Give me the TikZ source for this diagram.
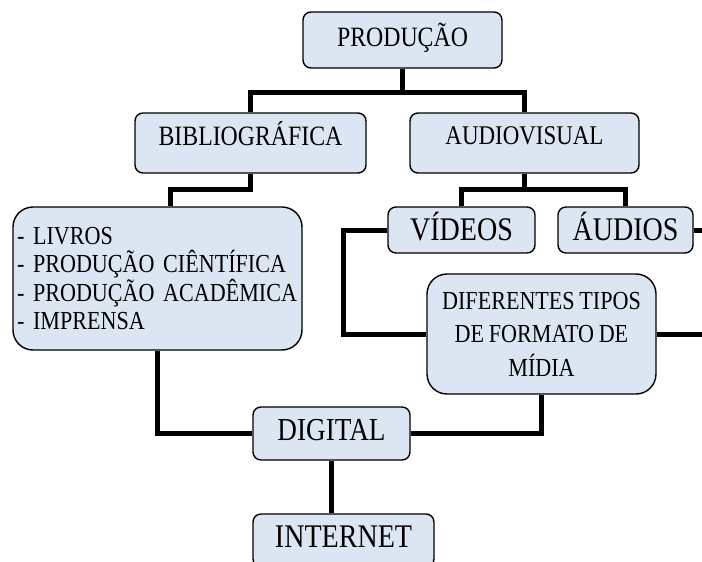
\documentclass[tikz,border=0pt]{standalone}
\usepackage{fontspec}
\setmainfont{Liberation Serif}[FakeStretch=0.85, WordSpace=0.85]
\definecolor{boxblue}{RGB}{220,230,242}
\newcommand{\fs}[2]{\fontsize{#1}{#2}\selectfont}

\begin{document}
\begin{tikzpicture}[x=1pt,y=-1pt,
  box/.style={draw=black, line width=1.4pt, fill=boxblue, rounded corners=8pt, inner sep=0pt},
  bigbox/.style={box, rounded corners=20pt},
  wire/.style={line width=5pt}]
\useasboundingbox (0,0) rectangle (702,562);

\node[box, minimum width=199pt, minimum height=56pt, font=\fs{28}{32},
  text height=18.5pt, text depth=6pt] (prod) at (402.5,40) {PRODUÇÃO};

\node[box, minimum width=231pt, minimum height=60pt, font=\fs{28}{32},
  text height=18.5pt, text depth=14pt] (bib) at (250.5,143) {BIBLIOGRÁFICA};
\node[box, minimum width=229pt, minimum height=60pt, font=\fs{27}{32},
  text height=17.9pt, text depth=14pt] (av) at (524.5,143) {AUDIOVISUAL};

\node[box, minimum width=147pt, minimum height=46pt, font=\fs{33}{36},
  text height=21.8pt, text depth=0pt] (vid) at (461.5,230) {VÍDEOS};
\node[box, minimum width=135pt, minimum height=46pt, font=\fs{33}{36},
  text height=21.8pt, text depth=0pt] (aud) at (625.5,230) {ÁUDIOS};

\node[bigbox, minimum height=143pt, text width=281pt, inner xsep=4pt,
  align=left, font=\fs{26}{28.5}] (liv) at (157.5,278.5)
{- LIVROS\\
- PRODUÇÃO CIÊNTÍFICA\\
- PRODUÇÃO ACADÊMICA\\
- IMPRENSA};

\node[bigbox, minimum width=229pt, minimum height=120pt, align=center,
  font=\fs{26}{33.5}] (dif) at (541.5,334)
{DIFERENTES TIPOS\\
DE FORMATO DE\\
MÍDIA};

\node[box, minimum width=157pt, minimum height=53pt, font=\fs{32}{36},
  text height=21.2pt, text depth=7pt] (dig) at (331.5,433.5) {DIGITAL};
\node[box, minimum width=181pt, minimum height=53pt, font=\fs{33}{36},
  text height=21.8pt, text depth=7pt] (inet) at (343.5,540.5) {INTERNET};

\coordinate (j1) at (402.5,92);
\coordinate (j2) at (170,189);
\coordinate (j3) at (524.5,189);
\coordinate (j4) at (343,230);
\coordinate (e1) at (702,230);
\coordinate (e2) at (702,334);

\draw[wire] (prod.south) -- (j1);
\draw[wire] (bib.north) |- (j1) -| (av.north);
\draw[wire] (bib.south) |- (j2) -- (j2 |- liv.north);
\draw[wire] (av.south) -- (j3);
\draw[wire] (vid.north) |- (j3) -| (aud.north);
\draw[wire] (vid.west) -- (j4) |- (dif.west);
\draw[wire] (aud.east) -- (e1);
\draw[wire] (dif.east) -- (e2);
\draw[wire] (liv.south) |- (dig.west);
\draw[wire] (dif.south) |- (dig.east);
\draw[wire] (dig.south) -- (dig.south |- inet.north);
\end{tikzpicture}
\end{document}
